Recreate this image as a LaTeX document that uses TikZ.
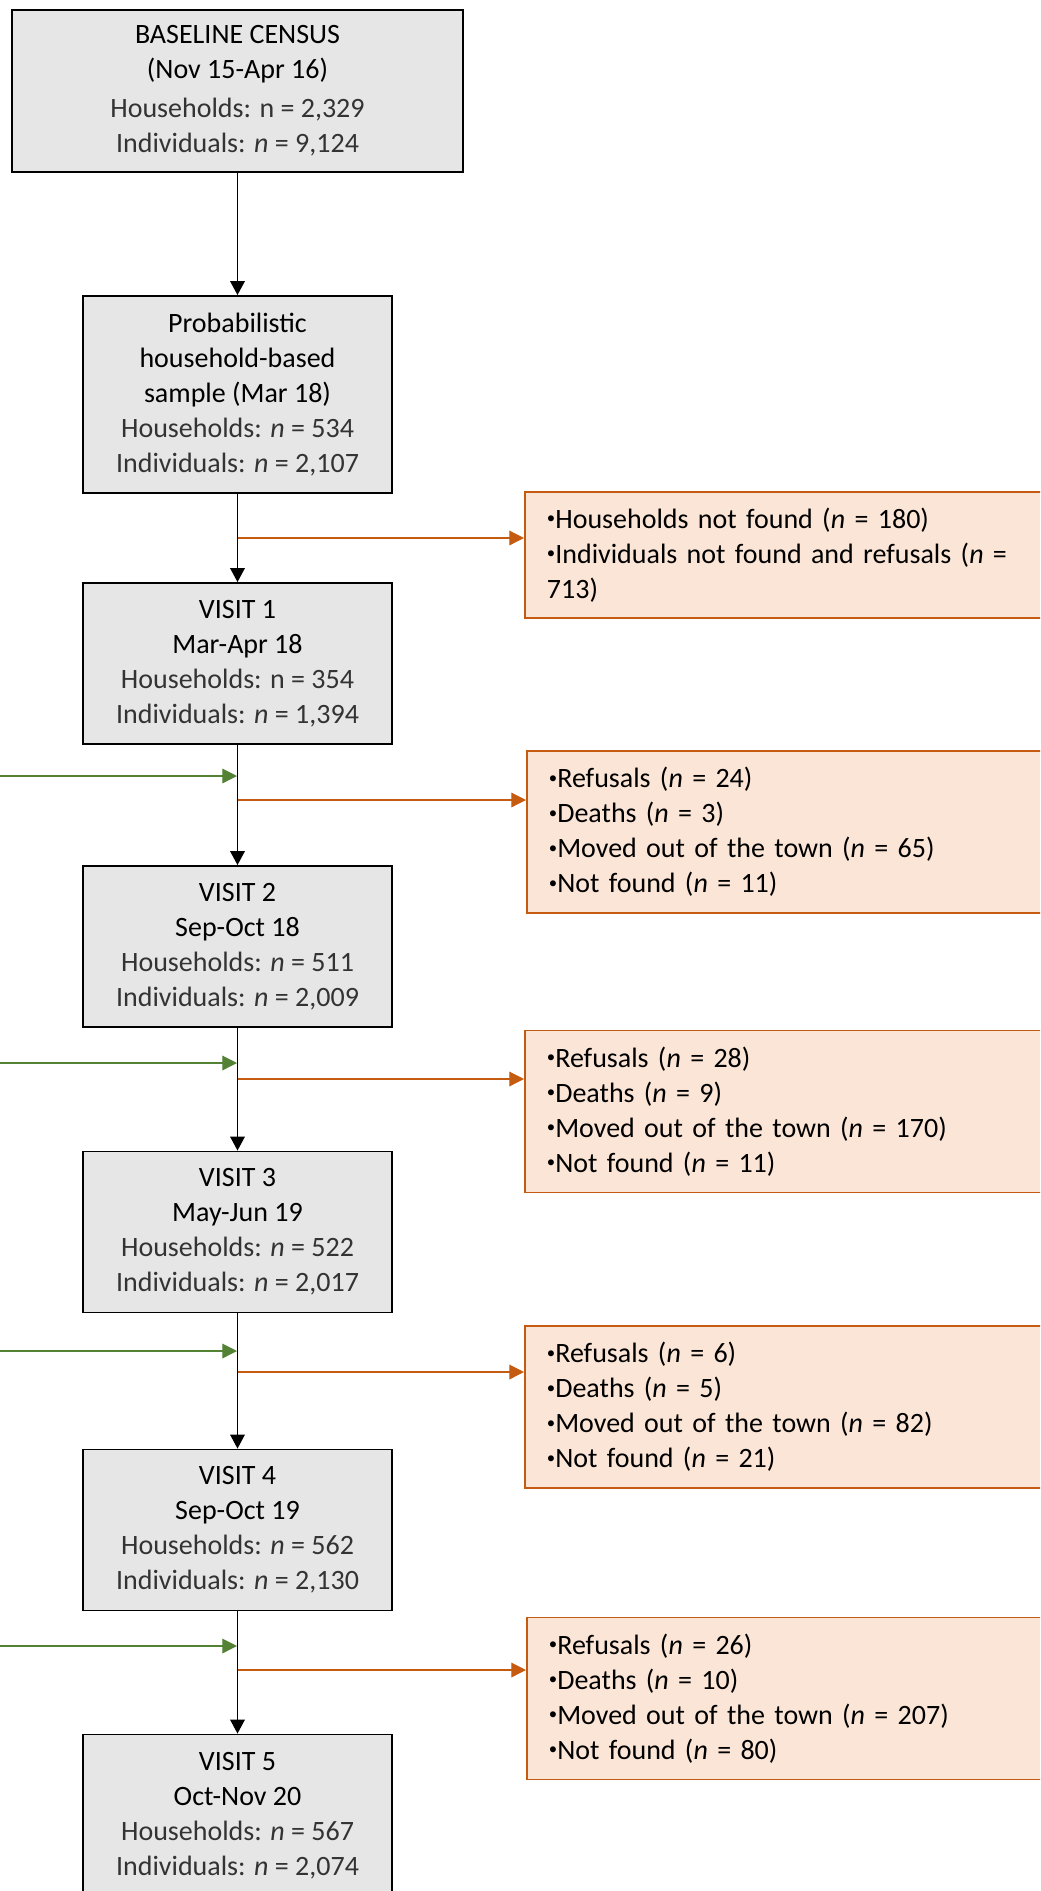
\documentclass[tikz,border=0pt]{standalone}
\usepackage{fontspec}
\setmainfont{Carlito}
\usepackage{xcolor}
\usepackage{tikz}
\usetikzlibrary{arrows.meta}
\definecolor{boxgray}{RGB}{230,230,230}
\definecolor{exfill}{RGB}{251,229,214}
\definecolor{exline}{RGB}{197,90,17}
\definecolor{ingreen}{RGB}{84,130,53}
\newcommand{\bul}{\raisebox{0.35ex}{\scalebox{0.6}{\textbullet}}}
\newcommand{\cnt}[1]{{\color{black!80}#1}}

\begin{document}
\begin{tikzpicture}[x=0.75pt,y=-0.75pt,
  every node/.style={font=\fontsize{21}{26.25}\selectfont},
  visit/.style={draw, line width=1.4pt, fill=boxgray, align=center, minimum width=231.75pt, minimum height=120.75pt, inner sep=0pt},
  excl/.style={draw=exline, line width=1.4pt, fill=exfill, align=left, text width=372pt, inner xsep=16.5pt, inner ysep=0pt, minimum height=121.5pt, anchor=west},
  flow/.style={line width=1pt, -{Triangle[length=10.5pt,width=11pt]}},
  lost/.style={exline, line width=0.9pt, -{Triangle[length=11pt,width=11pt]}},
  back/.style={ingreen, line width=0.9pt, -{Triangle[length=11pt,width=11pt]}}]
\clip (0,0) rectangle (1040,1891);

% Boxes
\node[visit, minimum width=338.25pt, minimum height=121.5pt] (base) at (237.5,91) {BASELINE CENSUS\\(Nov 15-Apr 16)\\[3pt]\cnt{Households: n = 2,329}\\\cnt{Individuals: \textit{n} = 9,124}};
\node[visit, minimum height=147.75pt] (samp) at (237.5,394.5) {Probabilistic\\household-based\\sample (Mar 18)\\\cnt{Households: \textit{n} = 534}\\\cnt{Individuals: \textit{n} = 2,107}};
\node[visit] (v1) at (237.5,663.5) {VISIT 1\\Mar-Apr 18\\\cnt{Households: n = 354}\\\cnt{Individuals: \textit{n} = 1,394}};
\node[visit] (v2) at (237.5,946.5) {VISIT 2\\Sep-Oct 18\\\cnt{Households: \textit{n} = 511}\\\cnt{Individuals: \textit{n} = 2,009}};
\node[visit] (v3) at (237.5,1232) {VISIT 3\\May-Jun 19\\\cnt{Households: \textit{n} = 522}\\\cnt{Individuals: \textit{n} = 2,017}};
\node[visit] (v4) at (237.5,1530) {VISIT 4\\Sep-Oct 19\\\cnt{Households: \textit{n} = 562}\\\cnt{Individuals: \textit{n} = 2,130}};
\node[visit, minimum height=121.5pt] (v5) at (237.5,1815.5) {VISIT 5\\Oct-Nov 20\\\cnt{Households: \textit{n} = 567}\\\cnt{Individuals: \textit{n} = 2,074}};

% Losses
\node[excl, minimum height=94.5pt] (ex1) at (524,555) {\bul Households not found (\textit{n} = 180)\\\bul Individuals not found and refusals (\textit{n} =\\713)};
\node[excl] (ex2) at (526,832) {\bul Refusals (\textit{n} = 24)\\\bul Deaths (\textit{n} = 3)\\\bul Moved out of the town (\textit{n} = 65)\\\bul Not found (\textit{n} = 11)};
\node[excl] (ex3) at (524,1111.5) {\bul Refusals (\textit{n} = 28)\\\bul Deaths (\textit{n} = 9)\\\bul Moved out of the town (\textit{n} = 170)\\\bul Not found (\textit{n} = 11)};
\node[excl] (ex4) at (524,1407) {\bul Refusals (\textit{n} = 6)\\\bul Deaths (\textit{n} = 5)\\\bul Moved out of the town (\textit{n} = 82)\\\bul Not found (\textit{n} = 21)};
\node[excl] (ex5) at (526,1698.5) {\bul Refusals (\textit{n} = 26)\\\bul Deaths (\textit{n} = 10)\\\bul Moved out of the town (\textit{n} = 207)\\\bul Not found (\textit{n} = 80)};

% Points on the lines
\coordinate (o1) at (238,538);
\coordinate (o2) at (238,800);
\coordinate (o3) at (238,1079);
\coordinate (o4) at (238,1372);
\coordinate (o5) at (238,1670);
\coordinate (g2s) at (-5,776);
\coordinate (g2) at (237,776);
\coordinate (g3s) at (-5,1063);
\coordinate (g3) at (237,1063);
\coordinate (g4s) at (-5,1351);
\coordinate (g4) at (237,1351);
\coordinate (g5s) at (-5,1646);
\coordinate (g5) at (237,1646);

%Lines
\draw[flow] (base.south) -- (samp.north);
\draw[flow] (samp.south) -- (v1.north);
\draw[flow] (v1.south) -- (v2.north);
\draw[flow] (v2.south) -- (v3.north);
\draw[flow] (v3.south) -- (v4.north);
\draw[flow] (v4.south) -- (v5.north);
\draw[lost] (o1) -- (o1 -| ex1.west);
\draw[lost] (o2) -- (o2 -| ex2.west);
\draw[lost] (o3) -- (o3 -| ex3.west);
\draw[lost] (o4) -- (o4 -| ex4.west);
\draw[lost] (o5) -- (o5 -| ex5.west);
\draw[back] (g2s) -- (g2);
\draw[back] (g3s) -- (g3);
\draw[back] (g4s) -- (g4);
\draw[back] (g5s) -- (g5);
\end{tikzpicture}
\end{document}
